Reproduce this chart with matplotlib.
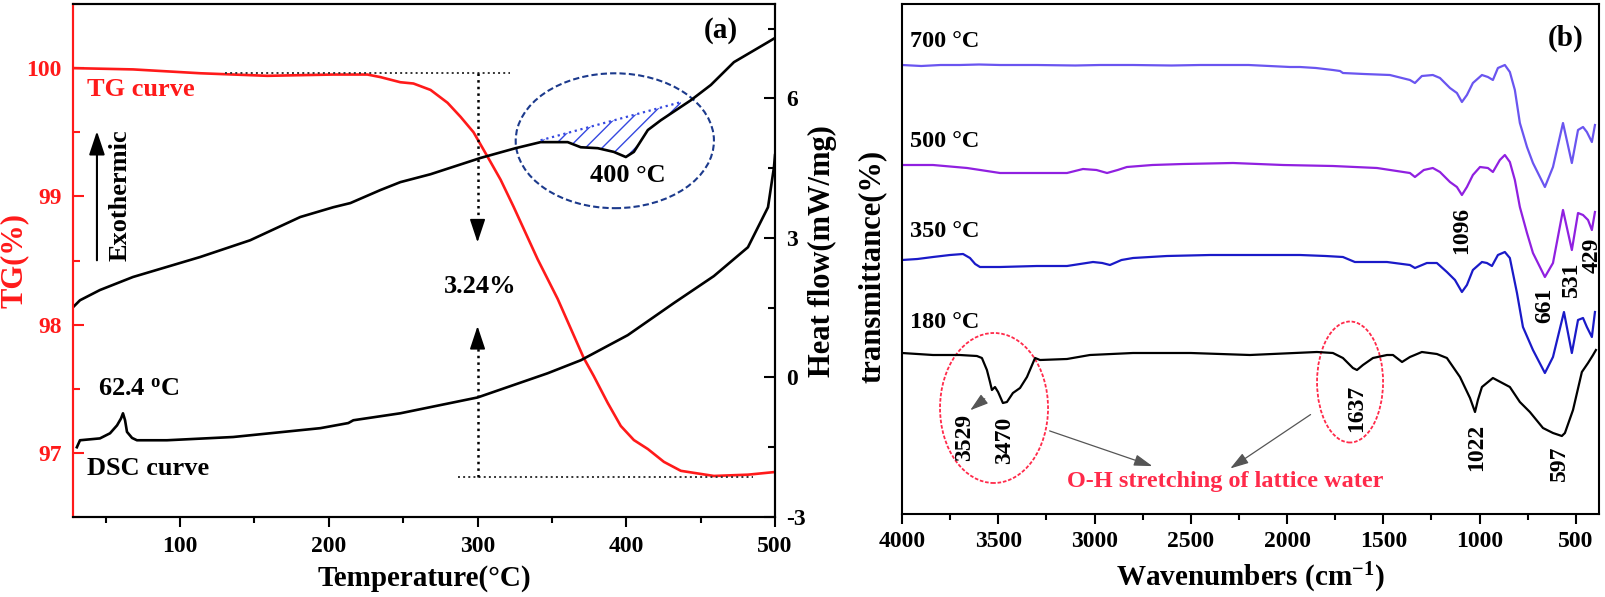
import matplotlib
matplotlib.use('Agg')
import matplotlib.pyplot as plt
import numpy as np
from matplotlib.patches import Ellipse
from matplotlib.ticker import MultipleLocator

plt.rcParams['font.family'] = 'Liberation Serif'
plt.rcParams['font.weight'] = 'bold'
plt.rcParams['axes.labelweight'] = 'bold'
plt.rcParams['axes.unicode_minus'] = False
plt.rcParams['mathtext.fontset'] = 'custom'
plt.rcParams['mathtext.rm'] = 'Liberation Serif:bold'
plt.rcParams['mathtext.bf'] = 'Liberation Serif:bold'
plt.rcParams['mathtext.it'] = 'Liberation Serif:bold:italic'
plt.rcParams['hatch.linewidth'] = 1.0

RED = '#ff1a1a'

# ---- panel (a): TG / DSC ----
tg_temp = [28.0, 68.4, 113.5, 158.6, 203.0, 225.9, 234.7, 248.1, 256.9, 268.4, 279.8,
           288.6, 297.3, 306.7, 315.5, 324.2, 340.4, 353.9, 371.4, 378.1, 387.5, 396.3,
           405.1, 414.5, 425.3, 436.7, 458.9, 481.8, 499.3]
tg_val = [100.00, 99.99, 99.96, 99.94, 99.95, 99.95, 99.93, 99.89, 99.88, 99.83, 99.73,
          99.62, 99.50, 99.31, 99.13, 98.92, 98.51, 98.20, 97.74, 97.60, 97.39, 97.21,
          97.10, 97.03, 96.93, 96.86, 96.82, 96.83, 96.85]

dsc1_temp = [28.0, 32.7, 46.1, 68.3, 113.5, 147.1, 180.8, 203.0, 214.5, 234.7, 248.1,
             268.4, 302.0, 325.6, 342.4, 360.6, 369.4, 380.8, 391.6, 399.7, 405.1, 414.5,
             423.2, 443.4, 456.9, 472.4, 495.3, 500.0]
dsc1_hf = [1.51, 1.66, 1.88, 2.16, 2.59, 2.95, 3.45, 3.66, 3.75, 4.03, 4.20,
           4.37, 4.72, 4.93, 5.06, 5.06, 4.95, 4.93, 4.85, 4.74, 4.85, 5.32,
           5.53, 5.96, 6.29, 6.78, 7.21, 7.30]

dsc2_temp = [30.6, 32.7, 46.1, 52.9, 57.6, 60.3, 61.6, 63.0, 64.3, 67.7, 71.0, 91.2,
             135.7, 194.3, 213.1, 216.5, 248.1, 300.0, 347.1, 369.4, 401.0, 432.0,
             458.9, 481.8, 495.3, 499.3, 500.0]
dsc2_hf = [-1.50, -1.35, -1.31, -1.20, -1.03, -0.88, -0.77, -0.92, -1.17, -1.30, -1.35, -1.35,
           -1.28, -1.09, -0.98, -0.92, -0.77, -0.43, 0.09, 0.37, 0.91, 1.60,
           2.18, 2.80, 3.66, 4.52, 4.78]

# ---- panel (b): FTIR ----
wn_700 = [4000, 3900, 3800, 3700, 3600, 3491, 3300, 3100, 2972, 2800, 2600, 2452, 2200,
          1985, 1933, 1850, 1762, 1725, 1710, 1600, 1466, 1362, 1336, 1300, 1243, 1206,
          1154, 1118, 1092, 1066, 1035, 988, 957, 931, 905, 869, 843, 817, 791, 754, 723,
          661, 619, 567, 521, 489, 463, 443, 417, 401]
t_700 = [89.8, 89.6, 89.8, 89.8, 89.9, 89.8, 89.8, 89.7, 89.8, 89.8, 89.7, 89.8, 89.8,
         89.4, 89.4, 89.2, 88.8, 88.6, 88.2, 88.0, 87.8, 86.8, 86.2, 87.6, 87.8, 87.2,
         85.2, 84.2, 82.4, 83.8, 86.2, 87.8, 87.4, 86.8, 89.2, 89.8, 88.4, 84.8, 78.2, 73.4, 70.2,
         65.4, 69.4, 78.2, 70.2, 76.8, 77.4, 76.4, 74.4, 77.8]

wn_500 = [4000, 3839, 3662, 3491, 3231, 3143, 3060, 2990, 2935, 2880, 2832, 2700, 2541,
          2281, 2021, 1762, 1533, 1362, 1336, 1290, 1243, 1206, 1154, 1118, 1092, 1066,
          1035, 998, 957, 931, 895, 869, 843, 817, 791, 754, 723, 661, 619, 567, 521, 489,
          463, 437, 417, 401]
t_500 = [69.8, 69.8, 69.2, 68.2, 68.2, 68.2, 69.0, 68.8, 68.2, 68.8, 69.4, 69.8, 70.0,
         70.2, 69.8, 69.6, 69.2, 68.2, 67.4, 68.8, 69.2, 68.4, 66.4, 65.4, 63.8, 65.4,
         67.8, 69.4, 69.2, 68.4, 70.8, 71.8, 70.4, 66.8, 61.4, 56.2, 52.2, 47.4, 50.2, 60.8, 52.8, 60.2,
         59.8, 58.8, 56.8, 60.4]

wn_350 = [4000, 3920, 3839, 3751, 3683, 3647, 3620, 3595, 3491, 3300, 3143, 3008, 2960,
          2920, 2860, 2800, 2624, 2400, 2200, 1933, 1800, 1710, 1648, 1481, 1362, 1336,
          1274, 1222, 1170, 1128, 1092, 1066, 1035, 988, 962, 936, 905, 869, 843, 806, 775,
          723, 661, 619, 562, 521, 489, 463, 443, 417, 401]
t_350 = [50.8, 51.0, 51.4, 51.8, 52.0, 51.2, 50.0, 49.4, 49.4, 49.6, 49.6, 50.4, 50.2,
         49.8, 50.8, 51.2, 51.6, 51.8, 51.8, 51.8, 51.6, 51.4, 50.4, 50.4, 49.8, 49.2,
         50.2, 50.2, 48.4, 46.8, 44.4, 45.8, 48.8, 50.4, 50.2, 49.6, 51.8, 52.4, 51.2, 44.2, 37.4,
         32.8, 28.2, 31.4, 40.4, 32.2, 38.8, 39.2, 37.4, 35.4, 40.4]

wn_180 = [4000, 3839, 3700, 3611, 3585, 3559, 3543, 3533, 3517, 3501, 3476, 3455, 3424,
          3387, 3351, 3309, 3283, 3143, 3024, 2800, 2500, 2193, 1845, 1762, 1710, 1658,
          1637, 1606, 1554, 1481, 1450, 1403, 1362, 1300, 1222, 1170, 1102, 1050, 1024,
          1009, 988, 931, 843, 791, 739, 671, 619, 573, 557, 515, 469, 437, 411, 396]
t_180 = [32.2, 31.8, 31.8, 31.6, 31.2, 28.8, 26.4, 24.8, 25.4, 24.4, 22.2, 22.4, 24.2,
         25.2, 27.4, 31.2, 30.8, 31.0, 31.8, 32.2, 32.2, 31.8, 32.4, 32.2, 31.2, 29.2,
         28.8, 29.8, 31.2, 31.8, 31.8, 30.4, 31.4, 32.4, 32.0, 31.2, 27.4, 23.2, 20.4,
         22.8, 25.4, 27.2, 25.4, 22.4, 20.4, 17.2, 16.2, 15.6, 16.2, 20.8, 28.4, 30.2, 31.8, 32.8]

spectra = [(wn_700, t_700, '#6a55f0'), (wn_500, t_500, '#9020e0'),
           (wn_350, t_350, '#1a1ac8'), (wn_180, t_180, 'black')]
spec_labels = ['700 °C', '500 °C', '350 °C', '180 °C']
spec_label_y = [93.4, 73.4, 55.4, 37.2]

fig = plt.figure(figsize=(16.05, 5.97), dpi=100)

# ================= panel (a) =================
ax = fig.add_axes([73/1605, 1-517/597, 702/1605, 513/597])
ax2 = ax.twinx()

ax.plot(tg_temp, tg_val, color=RED, lw=1.9)
ax2.plot(dsc1_temp, dsc1_hf, color='black', lw=1.9)
ax2.plot(dsc2_temp, dsc2_hf, color='black', lw=1.9)

ax.set_xlim(28, 500)
ax.set_ylim(96.5, 100.5)
ax2.set_ylim(-3, 8.03)

ax.xaxis.set_major_locator(MultipleLocator(100))
ax.xaxis.set_minor_locator(MultipleLocator(50))
ax.yaxis.set_major_locator(MultipleLocator(1))
ax.yaxis.set_minor_locator(MultipleLocator(0.5))
ax2.yaxis.set_major_locator(MultipleLocator(3))
ax2.yaxis.set_minor_locator(MultipleLocator(1.5))

ax.tick_params(axis='x', which='major', direction='out', length=7, width=1.5, pad=7, labelsize=17)
ax.tick_params(axis='x', which='minor', direction='out', length=4, width=1.5)
ax.tick_params(axis='y', which='major', direction='in', length=8, width=1.5, pad=8,
               labelsize=17, colors=RED)
ax.tick_params(axis='y', which='minor', direction='in', length=5, width=1.5, colors=RED)
ax2.tick_params(axis='y', which='major', direction='in', length=8, width=1.5, pad=8, labelsize=17)
ax2.tick_params(axis='y', which='minor', direction='in', length=5, width=1.5)

for s in ax.spines.values():
    s.set_linewidth(1.5)
for s in ax2.spines.values():
    s.set_linewidth(1.5)
ax.spines['left'].set_color(RED)
ax2.spines['left'].set_color(RED)

ax.set_xlabel('Temperature(°C)', fontsize=21)
ax.xaxis.label.set_va('center')
ax.xaxis.set_label_coords(0.5, -0.119)
ax.set_ylabel('TG(%)', fontsize=22, color=RED)
ax.yaxis.label.set_va('center')
ax.yaxis.set_label_coords(-0.084, 0.50)
ax2.set_ylabel('Heat flow(mW/mg)', fontsize=22)
ax2.yaxis.label.set_va('center')
ax2.yaxis.set_label_coords(1.068, 0.518)

# mass loss markers
ax.plot([130, 322], [99.96, 99.96], ls=':', color='#333333', lw=1.4)
ax.plot([286.6, 485], [96.81, 96.81], ls=':', color='#333333', lw=1.4)
ax.plot([300, 300], [99.96, 98.75], ls=':', color='black', lw=1.8)
ax.plot([300, 300], [96.81, 97.9], ls=':', color='black', lw=1.8)
ax.annotate('', xy=(300, 98.62), xytext=(300, 98.80),
            arrowprops=dict(arrowstyle='-|>,head_length=0.9,head_width=0.3', color='black',
                            lw=1.2, mutation_scale=16))
ax.annotate('', xy=(300, 98.01), xytext=(300, 97.83),
            arrowprops=dict(arrowstyle='-|>,head_length=0.9,head_width=0.3', color='black',
                            lw=1.2, mutation_scale=16))
ax.text(302, 98.25, '3.24%', fontsize=19, ha='center', va='baseline')

# exothermic arrow
ax.annotate('', xy=(44.1, 99.53), xytext=(44.1, 98.48),
            arrowprops=dict(arrowstyle='-|>,head_length=0.9,head_width=0.3', color='black',
                            lw=1.5, mutation_scale=16))
ax.text(59.6, 99.01, 'Exothermic', fontsize=19, rotation=90, ha='center', va='center')
ax.text(37.4, 99.78, 'TG curve', fontsize=19, color=RED, ha='left', va='baseline')
ax.text(44.8, 97.45, r'62.4 $^{\mathregular{o}}$C', fontsize=19, ha='left', va='baseline')
ax.text(37.4, 96.83, 'DSC curve', fontsize=19, ha='left', va='baseline')
ax.text(401, 99.11, '400 °C', fontsize=19, ha='center', va='baseline')
ax.text(463.6, 100.29, '(a)', fontsize=21, ha='center', va='center')

# endothermic area near 400 C
ax2.add_patch(Ellipse((392.3, 5.09), 133.3, 2.90, fill=False, ec='#1c3a8c',
                      ls=(0, (3, 1.5)), lw=1.5))
base_t = [342.4, 436.7]
base_hf = [5.10, 5.92]
ax2.plot(base_t, base_hf, ls=':', color='#3548e0', lw=1.6)
tt = np.linspace(342.4, 436.7, 200)
cc = np.interp(tt, dsc1_temp, dsc1_hf)
bb = np.interp(tt, base_t, base_hf)
ax2.fill_between(tt, cc, bb, where=bb > cc, facecolor='none', edgecolor='#3548e0',
                 hatch='//', linewidth=0)

# ================= panel (b) =================
bx = fig.add_axes([902/1605, 1-514/597, 697/1605, 510/597])
for (w, t, c), lab, ly in zip(spectra, spec_labels, spec_label_y):
    bx.plot(w, t, color=c, lw=1.6)
    bx.text(3958, ly, lab, fontsize=17.5, ha='left', va='baseline')

bx.set_xlim(4000, 380)
bx.set_ylim(0, 102)
bx.xaxis.set_major_locator(MultipleLocator(500))
bx.xaxis.set_minor_locator(MultipleLocator(250))
bx.set_yticks([])
bx.tick_params(axis='x', which='major', direction='out', length=7, width=1.5, pad=5, labelsize=17)
bx.tick_params(axis='x', which='minor', direction='out', length=4, width=1.5)
for s in bx.spines.values():
    s.set_linewidth(1.5)

bx.set_xlabel('Wavenumbers (cm$^{\\mathregular{-1}}$)', fontsize=21)
bx.xaxis.label.set_va('center')
bx.xaxis.set_label_coords(0.5, -0.125)
bx.set_ylabel('transmittance(%)', fontsize=22)
bx.yaxis.label.set_va('center')
bx.yaxis.set_label_coords(-0.043, 0.486)

bx.text(552, 95.2, '(b)', fontsize=21, ha='center', va='center')

peaks = ['1096', '661', '531', '429', '1637', '1022', '597', '3529', '3470']
peak_x = [1092, 661, 521, 417, 1637, 1014, 583, 3673, 3465]
peak_y = [56.8, 41.8, 47.0, 51.8, 21.2, 13.4, 10.2, 15.4, 14.8]
for p, px, py in zip(peaks, peak_x, peak_y):
    bx.text(px, py, p, fontsize=17, rotation=90, ha='center', va='center')

bx.add_patch(Ellipse((3522, 21.2), 561, 30, fill=False, ec='#ff2a4a', ls=(0, (2, 1)), lw=1.3))
bx.add_patch(Ellipse((1673, 26.4), 343, 24.2, fill=False, ec='#ff2a4a', ls=(0, (2, 1)), lw=1.3))
bx.text(2323, 6.4, 'O-H stretching of lattice water', fontsize=17.5, color='#ff2a4a',
        ha='center', va='center')
arrow_kw = dict(arrowstyle='-|>,head_length=0.8,head_width=0.25', color='#555555', lw=0.9,
                mutation_scale=14)
bx.annotate('', xy=(2686, 9.4), xytext=(3247, 16.8), arrowprops=arrow_kw)
bx.annotate('', xy=(2307, 8.8), xytext=(1866, 20.2), arrowprops=arrow_kw)
bx.annotate('', xy=(3657, 20.4), xytext=(3559, 23.4), arrowprops=arrow_kw)

fig.savefig('out.png', dpi=100)
